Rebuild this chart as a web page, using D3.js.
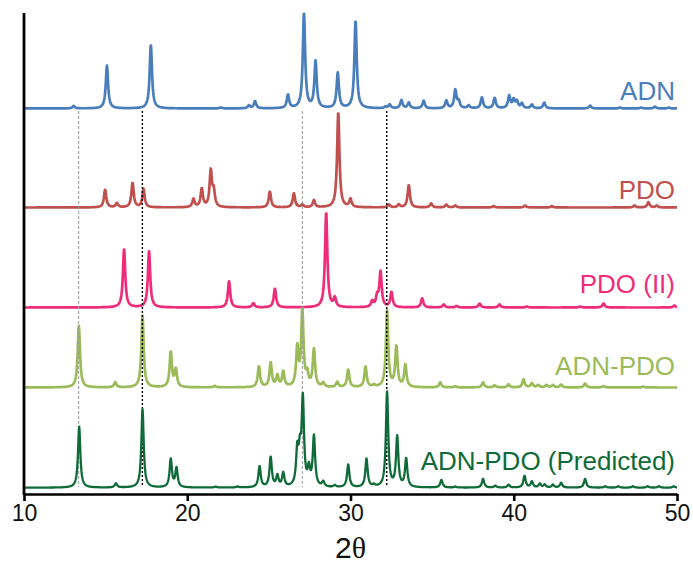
<!DOCTYPE html>
<html>
<head>
<meta charset="utf-8">
<script src="https://cdn.jsdelivr.net/npm/d3@7"></script>
<style>
  body { margin: 0; background: #fff; }
  text { font-family: "Liberation Sans", Arial, sans-serif; }
</style>
</head>
<body>
<div id="chart"></div>
<script>
// peak lists: [2theta, relative intensity]
var adnPeaks = [[13.04, 2.6], [15.08, 45], [17.77, 67], [22.05, 1], [23.78, 3], [24.15, 7.5],
    [26.17, 14], [27.15, 100], [27.86, 49], [29.22, 37], [30.31, 92], [32.14, 1.5], [32.4, 4],
    [33.12, 8.5], [33.57, 6], [34.48, 8], [35.87, 8], [36.42, 19], [36.63, 7], [37.24, 3],
    [38.05, 11.5], [38.83, 11], [39.72, 13], [39.99, 8.5], [40.19, 7], [40.5, 5], [41.11, 4],
    [41.87, 6], [44.68, 3], [46.5, 1], [47.8, 1], [48.65, 2], [49.5, 1]];
var pdoPeaks = [[14.97, 18.6], [15.69, 4.5], [16.65, 25.6], [17.32, 19.3], [20.38, 8.7],
    [20.89, 19.3], [21.44, 37.6], [21.62, 16], [25.06, 16.5], [26.53, 14.7], [27.05, 2.8],
    [27.76, 7.4], [29.25, 100], [30.0, 8.4], [32.35, 3], [32.96, 3], [33.57, 23.5], [34.94, 4.2],
    [35.87, 3], [36.42, 2], [38.77, 1.5], [40.7, 2], [42.34, 1.5], [47.4, 2], [48.25, 5.6], [48.76, 2]];
var pdo2Peaks = [[16.13, 61.5], [17.66, 59], [22.56, 27.4], [24.05, 4.5], [25.37, 19.7],
    [28.51, 100], [29.04, 9.2], [31.33, 6], [31.63, 10.5], [31.84, 36.8], [32.51, 15.8],
    [34.39, 9.5], [35.71, 3.2], [36.5, 1.5], [37.91, 4.2], [39.13, 3.2], [40.8, 1], [44.07, 1],
    [45.5, 4.2], [49.84, 2]];
var cocrystalPeaks = [[13.36, 64.8], [15.59, 5.3], [17.26, 75.4], [18.99, 36.8], [19.3, 18.2],
    [21.68, 1.6], [24.39, 21.8], [25.11, 25.6], [25.52, 11.6], [25.88, 15.8], [26.74, 40.3],
    [27.05, 80], [27.35, 12.3], [27.76, 39.3], [28.33, 4.2], [29.19, 5.3], [29.86, 18.2],
    [30.92, 21.4], [31.43, 2.1], [32.24, 80], [32.81, 42.4], [33.36, 23.2], [35.5, 5.3],
    [36.42, 1.1], [38.12, 5.3], [38.83, 2.1], [39.68, 3.2], [40.6, 8.4], [41.11, 4.2],
    [41.5, 2.5], [42.0, 2.5], [42.4, 2.5], [42.9, 3], [44.37, 4.2], [45.5, 1.5], [47.94, 1]];
var predictedPeaks = [[13.38, 64.2], [15.63, 4.5], [17.26, 82.5], [18.99, 29.8], [19.34, 20],
    [21.74, 1], [23.07, 1], [24.43, 22], [25.11, 31.6], [25.52, 11.6], [25.88, 14.4],
    [26.74, 36], [26.9, 31], [27.08, 90], [27.45, 17.6], [27.76, 52.6], [28.33, 5.3],
    [29.04, 2], [29.86, 23.9], [30.98, 29.8], [31.43, 2], [32.24, 100], [32.86, 52.6],
    [33.41, 29.8], [35.57, 8.1], [36.42, 1], [38.12, 9.2], [38.87, 2], [39.68, 3],
    [40.66, 12.3], [41.11, 6.3], [41.6, 4], [41.9, 3], [42.4, 3], [42.9, 5], [44.37, 9.2],
    [45.6, 1.5], [46.4, 1.5], [47.3, 1.5], [48.2, 1.5], [48.9, 1.5], [49.8, 1.5]];

var seriesNames = ["ADN", "PDO", "PDO (II)", "ADN-PDO", "ADN-PDO (Predicted)"];
var seriesPeaks = [adnPeaks, pdoPeaks, pdo2Peaks, cocrystalPeaks, predictedPeaks];
var seriesColors = ["#4a7ebb", "#c0504d", "#ee2d7a", "#9bbb59", "#0e6b38"];
var refLines = [13.35, 17.25, 27.05, 32.22];
var xTicks = [10, 20, 30, 40, 50];

var width = 693, height = 565;
var baselines = [108.5, 207.5, 307.5, 387.5, 487.7];
var labelY = [100, 198.5, 293, 374.5, 470];
var peakPx = 95;

var x = d3.scaleLinear().domain([10, 50]).range([24, 677]);

// pattern profile built from each peak list
function profile(peaks) {
    var w = 0.085, pts = [];
    for (var i = 0; i <= 2000; i++) {
        var t = 10 + i * 0.02, v = 0;
        peaks.forEach(function(p) {
            var d = (t - p[0]) / w;
            v += p[1] / (1 + d * d);
        });
        pts.push([t, v]);
    }
    return pts;
}

var svg = d3.select("#chart").append("svg")
    .attr("width", width).attr("height", height);

function drawSeries(i) {
    var y = d3.scaleLinear().domain([0, 100]).range([baselines[i], baselines[i] - peakPx]);
    var line = d3.line().x(function(d) { return x(d[0]); }).y(function(d) { return y(d[1]); });
    svg.append("path")
        .datum(profile(seriesPeaks[i]))
        .attr("d", line)
        .attr("fill", "none")
        .attr("stroke", seriesColors[i])
        .attr("stroke-width", i == 4 ? 2.3 : 2.7)
        .attr("stroke-linejoin", "round");
    svg.append("text")
        .attr("x", 675).attr("y", labelY[i])
        .attr("text-anchor", "end")
        .attr("font-size", 26)
        .attr("fill", seriesColors[i])
        .text(seriesNames[i]);
}

for (var i = 0; i < 4; i++) drawSeries(i);

// guide lines
svg.append("g").selectAll("line")
    .data(refLines)
    .enter().append("line")
        .attr("x1", function(d) { return x(d); })
        .attr("x2", function(d) { return x(d); })
        .attr("y1", 111).attr("y2", 487)
        .attr("stroke", function(d, j) { return j % 2 == 0 ? "#999" : "#000"; })
        .attr("stroke-width", function(d, j) { return j % 2 == 0 ? 1 : 1.4; })
        .attr("stroke-dasharray", function(d, j) { return j % 2 == 0 ? "3,2" : "2,2"; });

drawSeries(4);

// axes
var xAxis = svg.append("g")
    .attr("transform", "translate(0,494)")
    .call(d3.axisBottom(x).tickValues(xTicks).tickSize(7).tickSizeOuter(0).tickPadding(4));
xAxis.select(".domain").attr("stroke-width", 2.6);
xAxis.selectAll(".tick line").attr("stroke-width", 2.6);
xAxis.selectAll(".tick text")
    .attr("font-size", 23)
    .attr("font-family", "Liberation Sans, Arial, sans-serif")
    .attr("fill", "#111");

svg.append("line")
    .attr("x1", 24).attr("x2", 24)
    .attr("y1", 13).attr("y2", 495)
    .attr("stroke", "#000").attr("stroke-width", 2.8);

var xl = svg.append("text")
    .attr("x", x(30)).attr("y", 558)
    .attr("text-anchor", "middle")
    .attr("font-size", 30)
    .attr("fill", "#111");
xl.append("tspan").text("2");
xl.append("tspan").attr("font-family", "Liberation Serif, serif").text("θ");
</script>
</body>
</html>
